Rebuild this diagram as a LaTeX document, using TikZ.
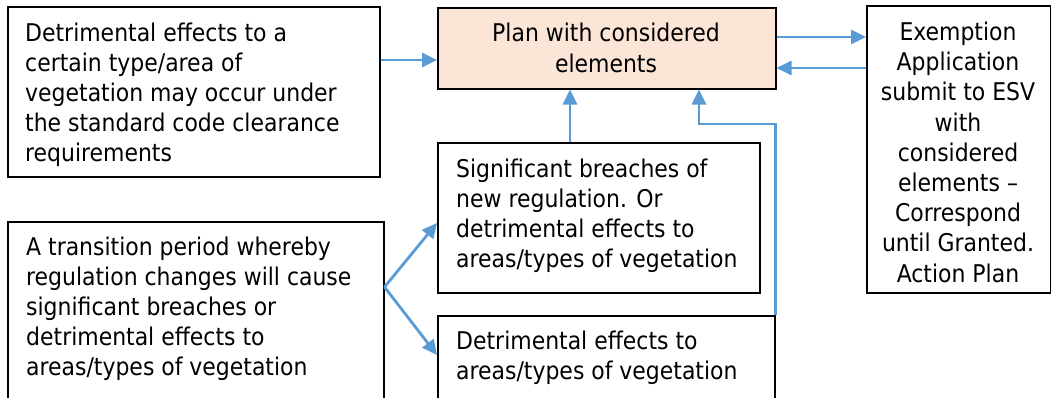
\documentclass[tikz,border=0pt]{standalone}
\usepackage{fontspec}
\setmainfont{DejaVu Sans Condensed}
\usetikzlibrary{arrows.meta}
\definecolor{arrowblue}{HTML}{5B9BD5}
\definecolor{peach}{HTML}{FBE5D6}
\begin{document}
\begin{tikzpicture}[x=1pt,y=1pt,
  box/.style={draw=black, line width=1.5pt, rectangle, inner sep=0pt, anchor=north west},
  txt/.style={inner sep=0pt, font=\fontsize{24.4}{30}\selectfont, align=left, anchor=base west},
  ctxt/.style={inner sep=0pt, font=\fontsize{24.4}{30.2}\selectfont, align=center, anchor=base},
  arr/.style={draw=arrowblue, line width=2.8pt, -{Triangle[length=15pt,width=14pt]}}]
\useasboundingbox (0,0) rectangle (1051,-397);
\clip (0,0) rectangle (1051,-397);
% boxes
\node[box, minimum width=372pt, minimum height=170pt] (A) at (7,-6) {};
\node[box, fill=peach, minimum width=338pt, minimum height=81pt] (Plan) at (437,-7) {};
\node[box, minimum width=184pt, minimum height=287pt] (Ex) at (866,-5) {};
\node[box, minimum width=322pt, minimum height=150pt] (Sig) at (437,-142) {};
\node[box, minimum width=337pt, minimum height=120pt] (Det) at (437,-315) {};
\node[box, minimum width=376pt, minimum height=200pt] (Tr) at (7,-221) {};
% texts (anchored at the baseline of their last line)
\node[txt] (At) at (25,-161) {Detrimental effects to a\\certain type/area of\\vegetation may occur under\\the standard code clearance\\requirements};
\node[ctxt] (Pt) at (606,-72) {Plan with considered\\elements};
\node[ctxt] (Et) at (958,-282) {Exemption\\Application\\submit to ESV\\with\\considered\\elements –\\Correspond\\until Granted.\\Action Plan};
\node[txt] (St) at (456,-267) {Significant breaches of\\new regulation. Or\\detrimental effects to\\areas/types of vegetation};
\node[txt] (Dt) at (456,-379) {Detrimental effects to\\areas/types of vegetation};
\node[txt] (Tt) at (26,-375) {A transition period whereby\\regulation changes will cause\\significant breaches or\\detrimental effects to\\areas/types of vegetation};
% helper coordinates
\coordinate (y60) at (0,-60);
\coordinate (y37) at (0,-37);
\coordinate (y68) at (0,-68);
\coordinate (x570) at (570,0);
\coordinate (k) at (699,-124);
\coordinate (fork) at (383,-287);
\coordinate (ySig) at (0,-223);
\coordinate (yDet) at (0,-355);
% connectors
\draw[arr] (A.east |- y60) -- (Plan.west |- y60);
\draw[arr] (Plan.east |- y37) -- (Ex.west |- y37);
\draw[arr] (Ex.west |- y68) -- (Plan.east |- y68);
\draw[arr] (Sig.north -| x570) -- (Plan.south -| x570);
\draw[arr] (Det.north east) |- (k) -- (k |- Plan.south);
\draw[arr] (Tr.east |- fork) -- (Sig.west |- ySig);
\draw[arr] (Tr.east |- fork) -- (Det.west |- yDet);
\end{tikzpicture}
\end{document}
